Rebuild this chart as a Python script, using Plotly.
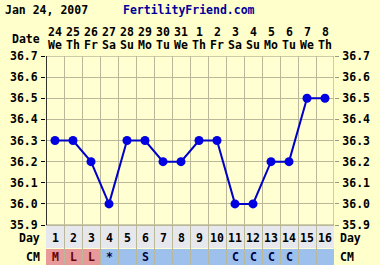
import plotly.graph_objects as go

# ---- data ----
days = list(range(1, 17))
dates = ["24", "25", "26", "27", "28", "29", "30", "31", "1", "2", "3", "4", "5", "6", "7", "8"]
weekdays = ["We", "Th", "Fr", "Sa", "Su", "Mo", "Tu", "We", "Th", "Fr", "Sa", "Su", "Mo", "Tu", "We", "Th"]
temps = [36.3, 36.3, 36.2, 36.0, 36.3, 36.3, 36.2, 36.2, 36.3, 36.3, 36.0, 36.0, 36.2, 36.2, 36.5, 36.5]
cm = ["M", "L", "L", "*", "", "S", "", "", "", "", "C", "C", "C", "C", "", ""]
ytick_vals = [35.9, 36.0, 36.1, 36.2, 36.3, 36.4, 36.5, 36.6, 36.7]
ytick_text = ["35.9", "36.0", "36.1", "36.2", "36.3", "36.4", "36.5", "36.6", "36.7"]
title_date = "Jan 24, 2007"
site = "FertilityFriend.com"

# ---- layout helpers ----
W, H = 380, 265
TOP = 56            # pixel of 36.7
PXU = 211.25        # pixels per 1.0 degree
YMAX = 36.7
YMIN = YMAX - (H - TOP) / PXU
PW = 288


def yv(py):
    return YMAX - (py - TOP) / PXU


def yp(py):
    return (H - py) / (H - TOP)


def xp(px):
    return (px - 46) / PW


FONT = dict(family="DejaVu Sans Mono", size=11.5, color="#000000", weight="bold")
BG = "#FFFFCC"
PLOT_BG = "#FFFFD2"
GRID = "#B9B99A"
RED = "#E8999A"
BLUE = "#9DC0EC"
DAYBG = "#E7E8EE"

fig = go.Figure()
fig.add_trace(go.Scatter(
    x=days, y=temps, mode="lines+markers",
    line=dict(color="#0000C8", width=2),
    marker=dict(color="#0000E0", size=9),
    hoverinfo="skip", showlegend=False, cliponaxis=False,
))
fig.add_trace(go.Scatter(x=[days[0]], y=[temps[0]], yaxis="y2", mode="markers",
                         marker=dict(opacity=0), showlegend=False, hoverinfo="skip"))

shapes = []
DAY_T, DAY_B = 225, 248
CM_T, CM_B = 249, 265
shapes.append(dict(type="rect", xref="x", yref="y", x0=0.5, x1=16.5, y0=yv(DAY_B), y1=yv(DAY_T),
                   fillcolor=DAYBG, line=dict(width=0), layer="below"))
for d, c in zip(days, cm):
    col = RED if c in ("M", "L", "H") else BLUE
    shapes.append(dict(type="rect", xref="x", yref="y", x0=d - 0.5, x1=d + 0.5,
                       y0=yv(CM_B), y1=yv(CM_T), fillcolor=col,
                       line=dict(width=0), layer="below"))
shapes.append(dict(type="rect", xref="x", yref="y", x0=0.5, x1=16.5, y0=35.9, y1=36.7,
                   line=dict(color="#9A9A80", width=1), layer="below"))
shapes.append(dict(type="line", xref="x", yref="y", x0=0.5, x1=0.5, y0=35.9, y1=36.7,
                   line=dict(color="#000000", width=1.5)))

ann = []


def add(text, x, y, xref="paper", anc="center", font=FONT):
    ann.append(dict(text=text, x=x, y=y, xref=xref, yref="paper", showarrow=False,
                    xanchor=anc, yanchor="middle", font=font))


add(title_date, xp(3), yp(10), anc="left")
add(site, xp(189), yp(10), font=dict(FONT, color="#000099"))
add("Date", xp(42), yp(39), anc="right")
for d, dt, wd in zip(days, dates, weekdays):
    add(dt, d, yp(32), xref="x")
    add(wd, d, yp(45), xref="x")
    add(str(d), d, yp(238), xref="x")
for d, c in zip(days, cm):
    if c:
        colr = "#660000" if c in ("M", "L") else "#000040"
        add(c, d, yp(257), xref="x", font=dict(FONT, color=colr))
add("Day", xp(42), yp(238), anc="right")
add("CM", xp(42), yp(257), anc="right")
add("Day", xp(338), yp(238), anc="left")
add("CM", xp(338), yp(257), anc="left")

fig.update_layout(
    width=W, height=H,
    margin=dict(l=46, r=46, t=TOP, b=0, pad=0),
    paper_bgcolor=BG, plot_bgcolor=PLOT_BG,
    xaxis=dict(range=[0.5, 16.5], tickvals=[i + 0.5 for i in range(0, 17)], showticklabels=False,
               showgrid=True, gridcolor=GRID, gridwidth=1, zeroline=False, ticks="", fixedrange=True),
    yaxis=dict(range=[YMIN, YMAX], tickvals=ytick_vals, ticktext=ytick_text, tickfont=FONT,
               showgrid=True, gridcolor=GRID, zeroline=False, ticks="outside", ticklen=4,
               tickcolor="#000000", ticklabelstandoff=1),
    yaxis2=dict(range=[YMIN, YMAX], tickvals=ytick_vals, ticktext=ytick_text, tickfont=FONT,
                overlaying="y", side="right", showgrid=False, zeroline=False, ticks="outside",
                ticklen=4, tickcolor="#9A9A80", ticklabelstandoff=1),
    shapes=shapes, annotations=ann,
)

fig.write_html("out.html")
